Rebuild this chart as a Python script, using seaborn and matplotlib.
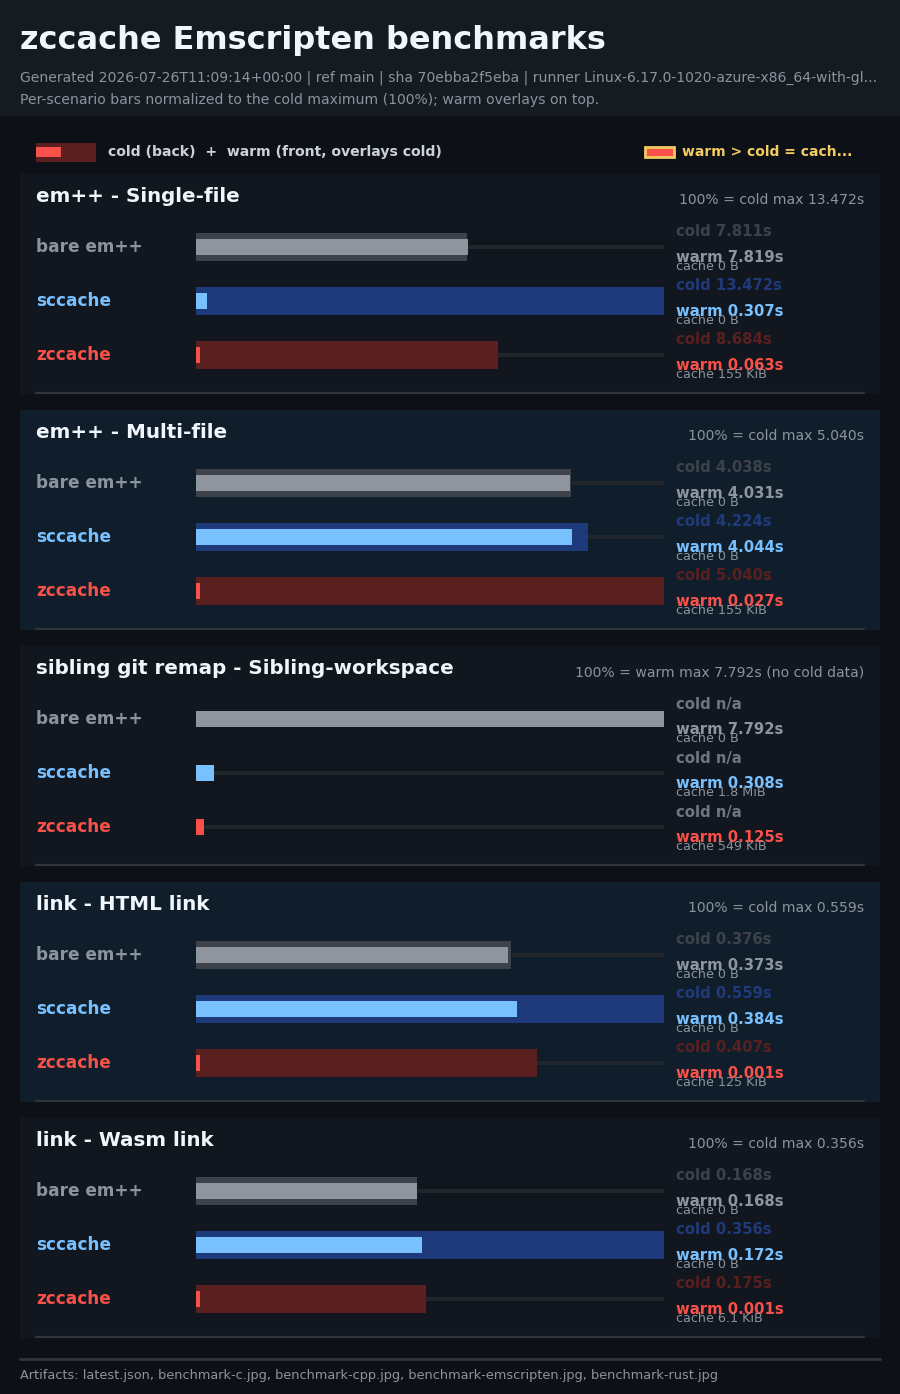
import numpy as np
import pandas as pd
import matplotlib
matplotlib.use("Agg")
import matplotlib.pyplot as plt
from matplotlib.patches import Rectangle
import seaborn as sns

sns.set_theme(style="dark")
plt.rcParams['font.family'] = ['DejaVu Sans']

# data
scenarios = ["em++ - Single-file", "em++ - Multi-file",
             "sibling git remap - Sibling-workspace",
             "link - HTML link", "link - Wasm link"]
tools = ["bare em++", "sccache", "zccache"]
cold_s = [[7.811, 13.472, 8.684],
          [4.038, 4.224, 5.040],
          [np.nan, np.nan, np.nan],
          [0.376, 0.559, 0.407],
          [0.168, 0.356, 0.175]]
warm_s = [[7.819, 0.307, 0.063],
          [4.031, 4.044, 0.027],
          [7.792, 0.308, 0.125],
          [0.373, 0.384, 0.001],
          [0.168, 0.172, 0.001]]
cache_sz = [["0 B", "0 B", "155 KiB"],
            ["0 B", "0 B", "155 KiB"],
            ["0 B", "1.8 MiB", "549 KiB"],
            ["0 B", "0 B", "125 KiB"],
            ["0 B", "0 B", "6.1 KiB"]]
subtitle1 = ("Generated 2026-07-26T11:09:14+00:00 | ref main | sha 70ebba2f5eba | "
             "runner Linux-6.17.0-1020-azure-x86_64-with-gl...")
subtitle2 = "Per-scenario bars normalized to the cold maximum (100%); warm overlays on top."
artifacts = ("Artifacts: latest.json, benchmark-c.jpg, benchmark-cpp.jpg, "
             "benchmark-emscripten.jpg, benchmark-rust.jpg")

# styles
W, H = 900, 1394
BG = "#0d1117"
HEADER = "#161b22"
PANEL_BG = ["#11161f", "#101e2b"]
TRACK = "#21262d"
label_col = {"bare em++": "#8b949e", "sccache": "#79c0ff", "zccache": "#f85149"}
cold_col = {"bare em++": "#3d424a", "sccache": "#1f3a7a", "zccache": "#5a1f1f"}
warm_col = {"bare em++": "#8e959e", "sccache": "#79c0ff", "zccache": "#f85149"}
MUTED = "#8b949e"

fig = plt.figure(figsize=(W / 100, H / 100), dpi=100, facecolor=BG)
bg = fig.add_axes([0, 0, 1, 1])
bg.set_xlim(0, W)
bg.set_ylim(H, 0)
bg.axis("off")
bg.set_facecolor(BG)

# header
bg.add_patch(Rectangle((0, 0), W, 116, color=HEADER, lw=0))
bg.text(20, 41, "zccache Emscripten benchmarks", color="#f0f6fc", fontsize=23,
        fontweight="bold", va="center")
bg.text(20, 78, subtitle1, color=MUTED, fontsize=10.1, va="center")
bg.text(20, 100, subtitle2, color=MUTED, fontsize=10.1, va="center")

# legend
bg.add_patch(Rectangle((36, 143), 60, 19, color="#5a1f1f", lw=0))
bg.add_patch(Rectangle((36, 147), 25, 10, color="#f85149", lw=0))
bg.text(108, 152, "cold (back)  +  warm (front, overlays cold)", color="#c9d1d9",
        fontsize=10.05, fontweight="bold", va="center")
bg.add_patch(Rectangle((645, 147), 29, 10, facecolor="#f85149", edgecolor="#f2cc60", lw=2))
bg.text(682, 152, "warm > cold = cach...", color="#f2cc60", fontsize=10,
        fontweight="bold", va="center")

ROW_DY = 54
bar_kw = dict(y="tool", hue="tool", order=tools, hue_order=tools, orient="h",
              errorbar=None, linewidth=0, legend=False, saturation=1)
for i, name in enumerate(scenarios):
    top = 174 + i * 236
    bg.add_patch(Rectangle((20, top), 860, 220, color=PANEL_BG[i % 2], lw=0))
    bg.plot([36, 864], [top + 219, top + 219], color="#30363d", lw=1.5)
    bg.text(36, top + 22, name, color="#f0f6fc", fontsize=14.3, fontweight="bold", va="center")

    cold = np.array(cold_s[i], dtype=float)
    warm = np.array(warm_s[i], dtype=float)
    has_cold = not np.all(np.isnan(cold))
    ref = np.nanmax(cold) if has_cold else np.nanmax(warm)
    note = (f"100% = cold max {ref:.3f}s" if has_cold
            else f"100% = warm max {ref:.3f}s (no cold data)")
    bg.text(864, top + 26, note, color=MUTED, fontsize=10.1, va="center", ha="right")

    df = pd.DataFrame({"tool": tools,
                       "cold": cold / ref,
                       "warm": np.maximum(warm / ref, 0.0075),
                       "track": 1.0})

    y0 = top + 73
    ax = fig.add_axes([196 / W, 1 - (y0 + 2 * ROW_DY + ROW_DY / 2) / H,
                       468 / W, 3 * ROW_DY / H])
    sns.barplot(data=df, x="track", palette={t: TRACK for t in tools}, width=0.075,
                ax=ax, **bar_kw)
    if has_cold:
        sns.barplot(data=df.dropna(subset=["cold"]), x="cold", palette=cold_col,
                    width=0.52, ax=ax, **bar_kw)
    sns.barplot(data=df, x="warm", palette=warm_col, width=0.3, ax=ax, **bar_kw)
    ax.set_xlim(0, 1)
    ax.set_ylim(2.5, -0.5)
    ax.axis("off")
    ax.patch.set_alpha(0)

    for j, t in enumerate(tools):
        ry = y0 + j * ROW_DY
        bg.text(36, ry, t, color=label_col[t], fontsize=12.2, fontweight="bold", va="center")
        if np.isnan(cold[j]):
            bg.text(676, ry - 15, "cold n/a", color="#6e7681", fontsize=10.7,
                    fontweight="bold", va="center")
        else:
            bg.text(676, ry - 15, f"cold {cold[j]:.3f}s", color=cold_col[t], fontsize=10.7,
                    fontweight="bold", va="center")
        bg.text(676, ry + 10, f"warm {warm[j]:.3f}s", color=warm_col[t], fontsize=10.7,
                fontweight="bold", va="center")
        bg.text(676, ry + 20, f"cache {cache_sz[i][j]}", color=MUTED, fontsize=9.2,
                va="center")

# footer
bg.plot([20, 880], [1359, 1359], color="#30363d", lw=2)
bg.text(20, 1376, artifacts, color=MUTED, fontsize=9.26, va="center")

fig.savefig("out.png", dpi=100, facecolor=BG)
